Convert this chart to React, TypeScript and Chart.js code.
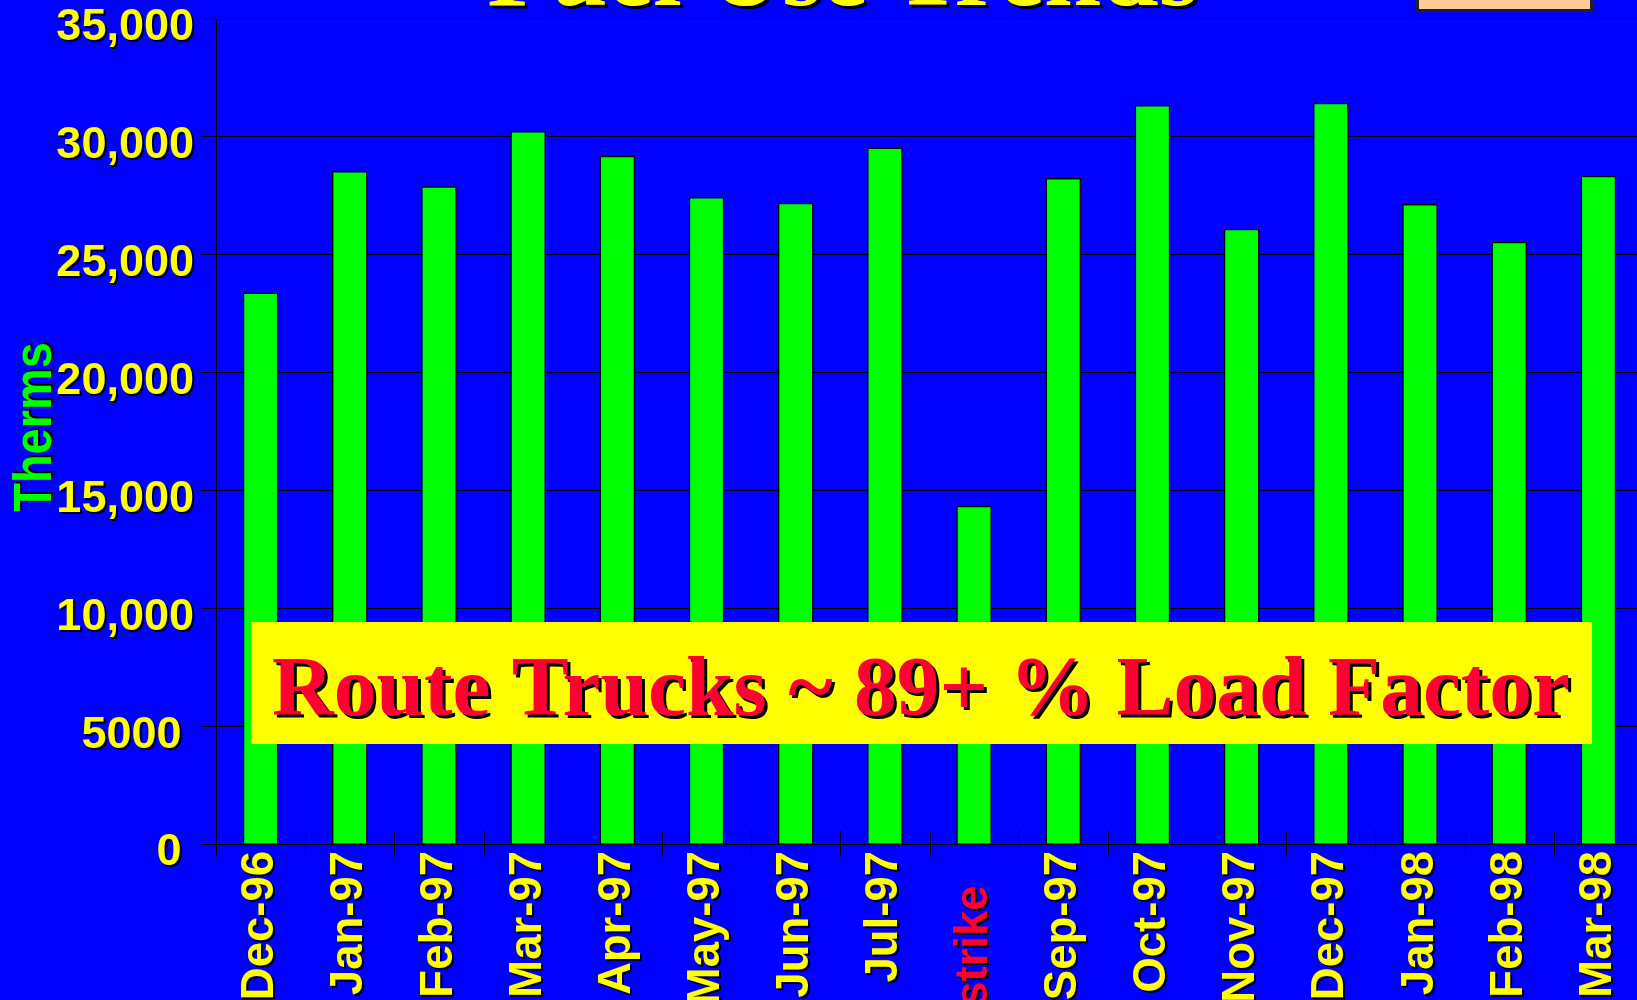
import React, { useEffect, useRef } from 'react';
import { Chart, registerables } from 'chart.js';

Chart.register(...registerables);

// ---------- data ----------
const categories = [
  'Dec-96', 'Jan-97', 'Feb-97', 'Mar-97', 'Apr-97', 'May-97', 'Jun-97', 'Jul-97',
  'strike', 'Sep-97', 'Oct-97', 'Nov-97', 'Dec-97', 'Jan-98', 'Feb-98', 'Mar-98',
];
const therms = [
  23400, 28550, 27900, 30250, 29200, 27450, 27200, 29550,
  14350, 28250, 31350, 26100, 31450, 27150, 25550, 28350,
];
const yTickLabels = ['0', '5000', '10,000', '15,000', '20,000', '25,000', '30,000', '35,000'];
const titleText = 'Fuel Use Trends';
const yAxisTitle = 'Therms';
const noteText = 'Route Trucks ~ 89+ % Load Factor';
const highlightCategory = 'strike';

// ---------- styles ----------
const BG = '#0000FF';
const BAR = '#00FF00';
const YELLOW = '#FFFF00';
const RED = '#FF0033';
const SANS = "'Liberation Sans', Arial, sans-serif";
const SERIF = "'Liberation Serif', 'Times New Roman', serif";

const decoPlugin = {
  id: 'deco',
  beforeDraw(chart: any) {
    const ctx = chart.ctx;
    ctx.save();
    ctx.fillStyle = BG;
    ctx.fillRect(0, 0, chart.width, chart.height);
    ctx.restore();
    for (const id of ['x', 'y']) {
      const s: any = chart.scales[id];
      if (s && !s._shadowPatched) {
        const orig = s.drawLabels;
        s.drawLabels = function (area: any) {
          const c = this.ctx;
          c.save();
          c.shadowColor = '#000';
          c.shadowOffsetX = 2;
          c.shadowOffsetY = 2;
          c.shadowBlur = 0;
          orig.call(this, area);
          c.restore();
        };
        s._shadowPatched = true;
      }
    }
  },
  afterDatasetsDraw(chart: any) {
    const ctx = chart.ctx;
    // annotation box
    ctx.save();
    ctx.fillStyle = YELLOW;
    ctx.fillRect(251, 622, 1341, 122);
    ctx.font = `bold 85.5px ${SERIF}`;
    ctx.textAlign = 'left';
    ctx.textBaseline = 'alphabetic';
    ctx.fillStyle = '#000';
    ctx.fillText(noteText, 275, 718);
    ctx.fillStyle = RED;
    ctx.fillText(noteText, 272, 715);
    ctx.restore();
  },
  afterDraw(chart: any) {
    const ctx = chart.ctx;
    const xs = chart.scales.x;
    const ys = chart.scales.y;
    const axisY = ys.getPixelForValue(0);
    const half = (xs.getPixelForValue(1) - xs.getPixelForValue(0)) / 2;
    // crossing tick marks on category axis
    ctx.save();
    ctx.strokeStyle = '#000';
    ctx.lineWidth = 1;
    for (let i = 0; i <= categories.length; i++) {
      const x = Math.round(xs.getPixelForValue(i) - half) + 0.5;
      ctx.beginPath();
      ctx.moveTo(x, axisY - 13);
      ctx.lineTo(x, axisY + 12);
      ctx.stroke();
    }
    ctx.restore();

    // title (cropped at top)
    ctx.save();
    ctx.font = `bold 103px ${SERIF}`;
    ctx.textAlign = 'center';
    ctx.textBaseline = 'alphabetic';
    ctx.fillStyle = '#000';
    ctx.fillText(titleText, 846, 8);
    ctx.fillStyle = YELLOW;
    ctx.fillText(titleText, 843, 5);
    ctx.restore();

    // peach box top right
    ctx.save();
    ctx.fillStyle = '#FFCC99';
    ctx.fillRect(1416, -5, 177, 16);
    ctx.strokeStyle = '#222';
    ctx.lineWidth = 3;
    ctx.strokeRect(1417.5, -5, 174, 15.5);
    ctx.restore();

    // y axis title
    ctx.save();
    ctx.translate(36, 427);
    ctx.rotate(-Math.PI / 2);
    ctx.scale(0.885, 1);
    ctx.font = `bold 53px ${SANS}`;
    ctx.textAlign = 'center';
    ctx.textBaseline = 'middle';
    ctx.fillStyle = '#000';
    ctx.fillText(yAxisTitle, 2, 2);
    ctx.fillStyle = BAR;
    ctx.fillText(yAxisTitle, 0, 0);
    ctx.restore();
  },
};

export default function App() {
  const ref = useRef<HTMLCanvasElement>(null);
  useEffect(() => {
    document.body.style.overflow = 'hidden';
    const canvas = ref.current!;
    const chart = new Chart(canvas, {
      type: 'bar',
      data: {
        labels: categories,
        datasets: [
          {
            data: therms,
            backgroundColor: BAR,
            borderColor: '#000',
            borderWidth: 1.5,
            barPercentage: 0.4,
            categoryPercentage: 1,
          },
        ],
      },
      options: {
        animation: false,
        responsive: false,
        devicePixelRatio: 1,
        layout: { padding: { top: 19, right: 17, left: 0, bottom: 0 } },
        plugins: { legend: { display: false }, tooltip: { enabled: false } },
        scales: {
          x: {
            grid: { display: true, drawOnChartArea: false, drawTicks: false, color: '#000' },
            border: { display: true, color: '#000', width: 1 },
            ticks: {
              autoSkip: false,
              minRotation: 90,
              maxRotation: 90,
              padding: 7,
              color: (c: any) => (categories[c.index] === highlightCategory ? RED : YELLOW),
              font: { family: SANS, weight: 'bold', size: 45.5 },
              callback: (_v: any, i: number) =>
                categories[i] === highlightCategory
                  ? categories[i] + '\u00a0\u00a0\u2009'
                  : categories[i],
            },
            afterFit: (s: any) => {
              s.height = 156;
              s.paddingLeft = 0;
              s.paddingRight = 0;
            },
          },
          y: {
            min: 0,
            max: 35000,
            ticks: {
              stepSize: 5000,
              padding: 7,
              labelOffset: 9,
              color: YELLOW,
              font: { family: SANS, weight: 'bold', size: 45 },
              callback: (_v: any, i: number) =>
                yTickLabels[i].includes(',') ? yTickLabels[i] : yTickLabels[i] + '\u00a0',
            },
            grid: { color: '#000', lineWidth: 1, tickLength: 15, drawTicks: true },
            border: { display: true, color: '#000', width: 1 },
            afterFit: (s: any) => {
              s.width = 216;
              s.paddingTop = 0;
              s.paddingBottom = 0;
            },
          },
        },
      } as any,
      plugins: [decoPlugin],
    });
    return () => chart.destroy();
  }, []);

  return (
    <div
      style={{
        position: 'fixed',
        left: 0,
        top: 0,
        width: 1637,
        height: 1000,
        overflow: 'hidden',
        background: BG,
      }}
    >
      <canvas ref={ref} width={1660} height={1000} style={{ display: 'block', width: 1660, height: 1000 }} />
    </div>
  );
}
